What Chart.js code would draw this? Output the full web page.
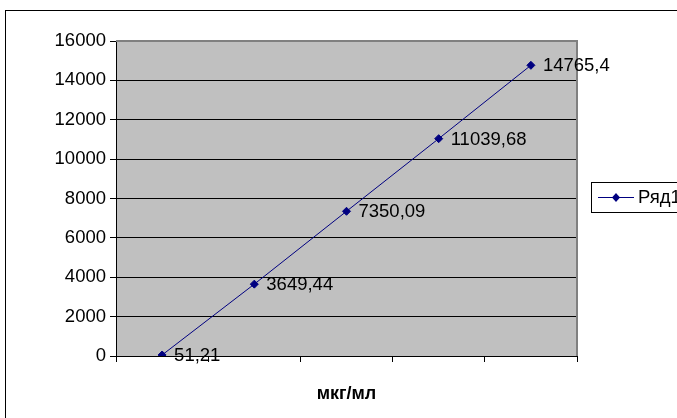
<!DOCTYPE html>
<html>
<head>
<meta charset="utf-8">
<script src="https://cdn.jsdelivr.net/npm/chart.js@4.4.0/dist/chart.umd.min.js"></script>
<style>
  body { margin: 0; background: #fff; }
  canvas { display: block; }
</style>
</head>
<body>
<canvas id="myChart" width="677" height="418"></canvas>
<script>
const categories = ['1', '2', '3', '4', '5'];
const seriesName = 'Ряд1';
const seriesValues = [51.21, 3649.44, 7350.09, 11039.68, 14765.4];
const yTicks = [0, 2000, 4000, 6000, 8000, 10000, 12000, 14000, 16000];
const axisTitle = 'мкг/мл';

const FONT = '"Liberation Sans", Arial, sans-serif';
const NAVY = '#000080';

// серый фон области построения и рамка всей диаграммы
const plotArea = {
    id: 'plotArea',
    beforeDraw(chart) {
        const { ctx, chartArea: a } = chart;
        ctx.save();
        ctx.fillStyle = '#ffffff';
        ctx.fillRect(0, 0, chart.width, chart.height);
        ctx.strokeStyle = '#000';
        ctx.lineWidth = 1;
        ctx.strokeRect(5.5, 10.5, 800, 600);
        ctx.fillStyle = '#c0c0c0';
        ctx.fillRect(a.left, a.top, a.right - a.left, a.bottom - a.top);
        ctx.restore();
    },
    beforeDatasetsDraw(chart) {
        const { ctx, chartArea: a } = chart;
        ctx.save();
        ctx.strokeStyle = '#808080';
        ctx.lineWidth = 2;
        ctx.beginPath();
        ctx.moveTo(a.left, a.top);
        ctx.lineTo(a.right, a.top);
        ctx.lineTo(a.right, a.bottom);
        ctx.stroke();
        ctx.restore();
    }
};

// подписи значений справа от точек
const valueLabels = {
    id: 'valueLabels',
    afterDatasetsDraw(chart) {
        const { ctx } = chart;
        const meta = chart.getDatasetMeta(0);
        ctx.save();
        ctx.font = '18.5px ' + FONT;
        ctx.fillStyle = '#000';
        ctx.textAlign = 'left';
        ctx.textBaseline = 'middle';
        meta.data.forEach((pt, i) => {
            const text = String(seriesValues[i]).replace('.', ',');
            ctx.fillText(text, pt.x + 12, pt.y + 1);
        });
        ctx.restore();
    }
};

// легенда справа
const sideLegend = {
    id: 'sideLegend',
    afterDraw(chart) {
        const { ctx } = chart;
        const ds = chart.data.datasets[0];
        const y = 197;
        ctx.save();
        ctx.strokeStyle = '#000';
        ctx.lineWidth = 1;
        ctx.strokeRect(591.5, 182.5, 200, 30);
        ctx.strokeStyle = ds.borderColor;
        ctx.beginPath();
        ctx.moveTo(598, y + 0.5);
        ctx.lineTo(634, y + 0.5);
        ctx.stroke();
        ctx.fillStyle = ds.pointBackgroundColor;
        ctx.beginPath();
        ctx.moveTo(616, y - 4);
        ctx.lineTo(620, y + 0.5);
        ctx.lineTo(616, y + 5);
        ctx.lineTo(612, y + 0.5);
        ctx.closePath();
        ctx.fill();
        ctx.font = '18.5px ' + FONT;
        ctx.fillStyle = '#000';
        ctx.textBaseline = 'middle';
        ctx.fillText(ds.label, 638, y + 1);
        ctx.restore();
    }
};

new Chart(document.getElementById('myChart'), {
    type: 'line',
    data: {
        labels: categories,
        datasets: [{
            label: seriesName,
            data: seriesValues,
            borderColor: NAVY,
            borderWidth: 1,
            pointStyle: 'rectRot',
            pointRadius: 4,
            pointBackgroundColor: NAVY,
            pointBorderColor: NAVY,
            pointBorderWidth: 1,
            tension: 0
        }]
    },
    options: {
        responsive: false,
        animation: false,
        layout: { padding: { top: 41, right: 100, bottom: 13, left: 0 } },
        plugins: {
            legend: { display: false },
            tooltip: { enabled: false }
        },
        scales: {
            x: {
                offset: true,
                grid: {
                    offset: true,
                    drawOnChartArea: false,
                    tickLength: 6,
                    color: '#000'
                },
                border: { color: '#000', width: 1 },
                ticks: { display: false },
                title: {
                    display: true,
                    text: axisTitle,
                    color: '#000',
                    font: { family: FONT, size: 18, weight: 'bold' },
                    padding: 0
                },
                afterFit(scale) { scale.height = 49; }
            },
            y: {
                min: 0,
                max: 16000,
                afterBuildTicks(scale) {
                    scale.ticks = yTicks.map(v => ({ value: v }));
                },
                grid: { color: '#000', tickLength: 6 },
                border: { color: '#000', width: 1 },
                ticks: {
                    color: '#000',
                    padding: 4,
                    font: { family: FONT, size: 18.5 },
                    callback: v => String(v)
                },
                afterFit(scale) { scale.width = 116; }
            }
        }
    },
    plugins: [plotArea, valueLabels, sideLegend]
});
</script>
</body>
</html>
